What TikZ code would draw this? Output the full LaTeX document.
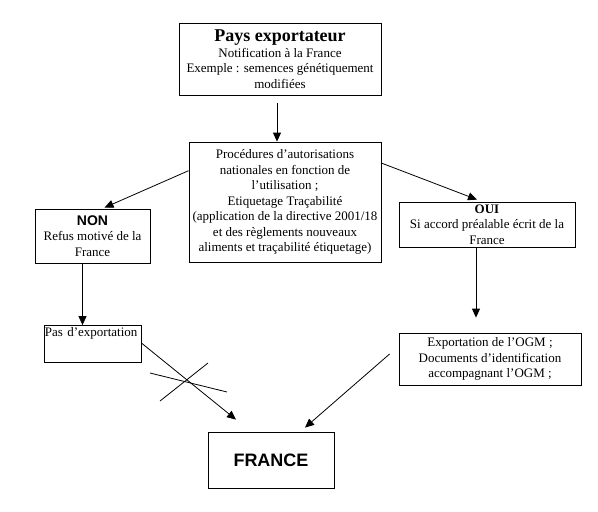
\documentclass[tikz,border=0pt]{standalone}
\usepackage{fontspec}
\setmainfont{Liberation Serif}
\newfontfamily\arialfont{Liberation Sans}
\usetikzlibrary{arrows.meta}
\tikzstyle{node:box}=[draw,rectangle,line width=0.8pt,align=center,inner sep=1pt,font=\fontsize{13}{15.5}\selectfont]
\tikzstyle{draw:connection}=[-{Triangle[length=9pt,width=8pt]},line width=0.8pt]
\tikzstyle{draw:cross}=[line width=0.8pt]

\begin{document}
\begin{tikzpicture}[x=1pt,y=-1pt]
        \useasboundingbox (0,0) rectangle (598,512);

        % Top: exporting country
        \node[node:box,minimum width=202pt,minimum height=72pt] (pays) at (280,59)
            {{\fontsize{18}{20}\selectfont\bfseries Pays exportateur}\\Notification à la France\\Exemple : semences génétiquement\\modifiées};

        % National procedures
        \node[node:box,minimum width=192pt,minimum height=120pt] (proc) at (285,202)
            {Procédures d’autorisations\\nationales en fonction de\\l’utilisation ;\\Etiquetage Traçabilité\\(application de la directive 2001/18\\et des règlements nouveaux\\aliments et traçabilité étiquetage)};

        % Decisions
        \node[node:box,minimum width=115pt,minimum height=54pt] (non) at (92.5,236)
            {{\arialfont\bfseries\fontsize{14}{15.5}\selectfont NON}\\Refus motivé de la\\France};
        \node[node:box,minimum width=176pt,minimum height=45pt] (oui) at (487,224.5)
            {\textbf{OUI}\\Si accord préalable écrit de la\\France};

        % Outcomes
        \node[node:box,minimum width=97pt,text width=95pt,align=left,text height=10pt,text depth=25pt] (pas) at (92.5,344)
            {Pas d’exportation};
        \node[node:box,minimum width=182pt,minimum height=52pt] (exp) at (490,359)
            {Exportation de l’OGM ;\\Documents d’identification\\accompagnant l’OGM ;};

        \node[node:box,minimum width=126pt,minimum height=56pt] (france) at (271,460)
            {\arialfont\bfseries\fontsize{18}{20}\selectfont FRANCE};

        % Connections
        \draw[draw:connection] ([xshift=-3pt,yshift=-8pt]pays.south) -- ([xshift=-8pt]proc.north);
        \draw[draw:connection] (proc.162) -- ([xshift=12pt,yshift=1pt]non.north);
        \draw[draw:connection] (proc.22) -- ([xshift=-10pt,yshift=2pt]oui.north);
        \draw[draw:connection] ([xshift=-10pt]non.south) -- ([xshift=-10pt]pas.north);
        \draw[draw:connection,shorten >=15pt] ([xshift=-11pt]oui.south) -- ([xshift=-14pt]exp.north);
        \draw[draw:connection] ([yshift=1pt]pas.east) -- ([xshift=-35pt,yshift=12pt]france.north);
        \draw[draw:connection] ([xshift=-9pt,yshift=5pt]exp.west) -- ([xshift=34pt,yshift=4pt]france.north);

        % Cross over the refused path
        \draw[draw:cross] (150,373) -- (227,392);
        \draw[draw:cross] (160,401) -- (208,363);
    \end{tikzpicture}
\end{document}
